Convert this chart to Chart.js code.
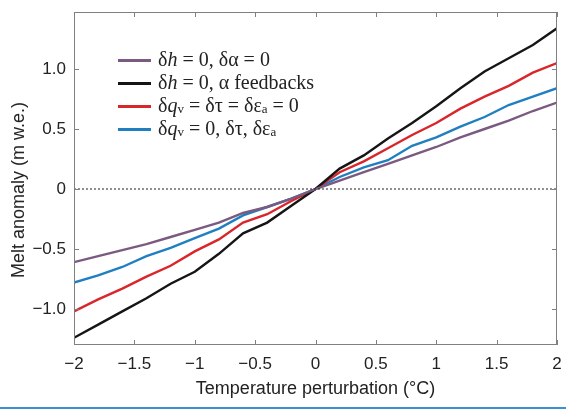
<!DOCTYPE html>
<html>
<head>
<meta charset="utf-8">
<script src="https://cdn.jsdelivr.net/npm/chart.js@4/dist/chart.umd.min.js"></script>
<style>
  html, body { margin: 0; padding: 0; background: #fff; }
  #wrap { position: relative; width: 566px; height: 410px; }
  canvas { position: absolute; left: 0; top: 0; }
  .leg { position: absolute; left: 118px; top: 48px; font-family: 'Liberation Serif', 'DejaVu Serif', serif; font-size: 20px; color: #222; }
  .row { position: relative; height: 23px; line-height: 23px; white-space: nowrap; }
  .sw { position: absolute; left: 0; top: 11px; width: 33px; height: 2.5px; }
  .tx { position: absolute; left: 40px; top: 0; }
  .tx sub { font-size: 13px; vertical-align: -1px; }
  #ytitle { position: absolute; left: 18px; top: 190px; transform: translate(-50%, -50%) rotate(-90deg); white-space: nowrap; font-family: 'Liberation Sans', Arial, sans-serif; font-size: 18px; color: #222; line-height: 20px; }
  #strip { position: absolute; left: 0; top: 407px; width: 566px; height: 2px; background: #3d8fd4; }
</style>
</head>
<body>
<div id="wrap">
  <canvas id="c" width="566" height="410"></canvas>
  <div id="ytitle">Melt anomaly (m w.e.)</div>
  <div class="leg">
    <div class="row"><span class="sw" style="background:#7a5a80"></span><span class="tx">δ<i>h</i> = 0, δα = 0</span></div>
    <div class="row"><span class="sw" style="background:#151515"></span><span class="tx">δ<i>h</i> = 0, α feedbacks</span></div>
    <div class="row"><span class="sw" style="background:#d8262b"></span><span class="tx">δ<i>q</i><sub>v</sub> = δτ = δε<sub>a</sub> = 0</span></div>
    <div class="row"><span class="sw" style="background:#1f7fc1"></span><span class="tx">δ<i>q</i><sub>v</sub> = 0, δτ, δε<sub>a</sub></span></div>
  </div>
  <div id="strip"></div>
</div>
<script>
// ---- data ----
const temps = [-2,-1.8,-1.6,-1.4,-1.2,-1.0,-0.8,-0.6,-0.4,-0.2,0,0.2,0.4,0.6,0.8,1.0,1.2,1.4,1.6,1.8,2.0];
const meltNoFeedback = [-0.61,-0.56,-0.51,-0.46,-0.40,-0.34,-0.28,-0.20,-0.15,-0.08,0,0.07,0.14,0.21,0.28,0.35,0.43,0.50,0.57,0.65,0.72];
const meltAlbedoFeedback = [-1.24,-1.13,-1.02,-0.91,-0.79,-0.69,-0.54,-0.37,-0.28,-0.14,0,0.17,0.28,0.42,0.55,0.69,0.84,0.98,1.09,1.20,1.34];
const meltNoAtmos = [-1.02,-0.92,-0.83,-0.73,-0.64,-0.52,-0.42,-0.28,-0.21,-0.10,0,0.14,0.23,0.34,0.45,0.55,0.67,0.77,0.86,0.97,1.05];
const meltTauEps = [-0.78,-0.72,-0.65,-0.56,-0.49,-0.41,-0.33,-0.22,-0.15,-0.08,0,0.10,0.18,0.24,0.36,0.43,0.52,0.60,0.70,0.77,0.84];
const xTicks = [-2,-1.5,-1,-0.5,0,0.5,1,1.5,2];
const xTickLabels = ['\u22122','\u22121.5','\u22121','\u22120.5','0','0.5','1','1.5','2'];
const yTicks = [-1,-0.5,0,0.5,1];
const yTickLabels = ['\u22121.0','\u22120.5','0','0.5','1.0'];
const zeroLineX = [-2, 2];

const pts = (ys) => temps.map((t,i) => ({x: t, y: ys[i]}));
const mk = (ys, color) => ({ data: pts(ys), borderColor: color, backgroundColor: color, borderWidth: 2.4, pointRadius: 0, showLine: true, tension: 0 });

const frameTicks = {
  id: 'frameTicks',
  afterDraw(chart) {
    const {ctx, chartArea: a, scales: {x, y}} = chart;
    ctx.save();
    ctx.strokeStyle = '#808080';
    ctx.lineWidth = 1;
    ctx.strokeRect(a.left + 0.5, a.top + 0.5, a.right - a.left - 1, a.bottom - a.top - 1);
    ctx.beginPath();
    const L = 5;
    xTicks.forEach(v => {
      const px = Math.round(x.getPixelForValue(v)) + 0.5;
      ctx.moveTo(px, a.bottom); ctx.lineTo(px, a.bottom - L);
      ctx.moveTo(px, a.top); ctx.lineTo(px, a.top + L);
    });
    yTicks.forEach(v => {
      const py = Math.round(y.getPixelForValue(v)) + 0.5;
      ctx.moveTo(a.left, py); ctx.lineTo(a.left + L, py);
      ctx.moveTo(a.right, py); ctx.lineTo(a.right - L, py);
    });
    ctx.stroke();
    ctx.restore();
  }
};

new Chart(document.getElementById('c'), {
  type: 'scatter',
  data: {
    datasets: [
      { data: zeroLineX.map(v => ({x: v, y: 0})), borderColor: '#222', borderWidth: 1, borderDash: [2,2], pointRadius: 0, showLine: true },
      mk(meltNoFeedback, '#7a5a80'),
      mk(meltAlbedoFeedback, '#151515'),
      mk(meltNoAtmos, '#d8262b'),
      mk(meltTauEps, '#1f7fc1')
    ]
  },
  options: {
    responsive: false,
    animation: false,
    events: [],
    layout: { padding: { left: 0, top: 12, right: 9, bottom: 0 } },
    plugins: { legend: { display: false }, tooltip: { enabled: false } },
    scales: {
      x: {
        type: 'linear', min: -2, max: 2,
        afterBuildTicks: s => { s.ticks = xTicks.map(v => ({value: v})); },
        afterFit: s => { s.height = 65; s.paddingLeft = 0; s.paddingRight = 0; },
        grid: { display: false, drawTicks: false },
        border: { display: false },
        ticks: { padding: 9, color: '#222', font: { family: 'Liberation Sans', size: 17 }, maxRotation: 0,
          callback: v => xTickLabels[xTicks.indexOf(v)] ?? '' },
        title: { display: true, text: 'Temperature perturbation (\u00B0C)', color: '#222', font: { family: 'Liberation Sans', size: 18 }, padding: { top: 0, bottom: 10 } }
      },
      y: {
        type: 'linear', min: -1.3, max: 1.475,
        afterBuildTicks: s => { s.ticks = yTicks.map(v => ({value: v})); },
        afterFit: s => { s.width = 74; s.paddingTop = 0; s.paddingBottom = 0; },
        grid: { display: false, drawTicks: false },
        border: { display: false },
        ticks: { padding: 8, color: '#222', font: { family: 'Liberation Sans', size: 17 },
          callback: v => yTickLabels[yTicks.indexOf(v)] ?? '' },
        title: { display: false }
      }
    }
  },
  plugins: [frameTicks]
});
</script>
</body>
</html>
